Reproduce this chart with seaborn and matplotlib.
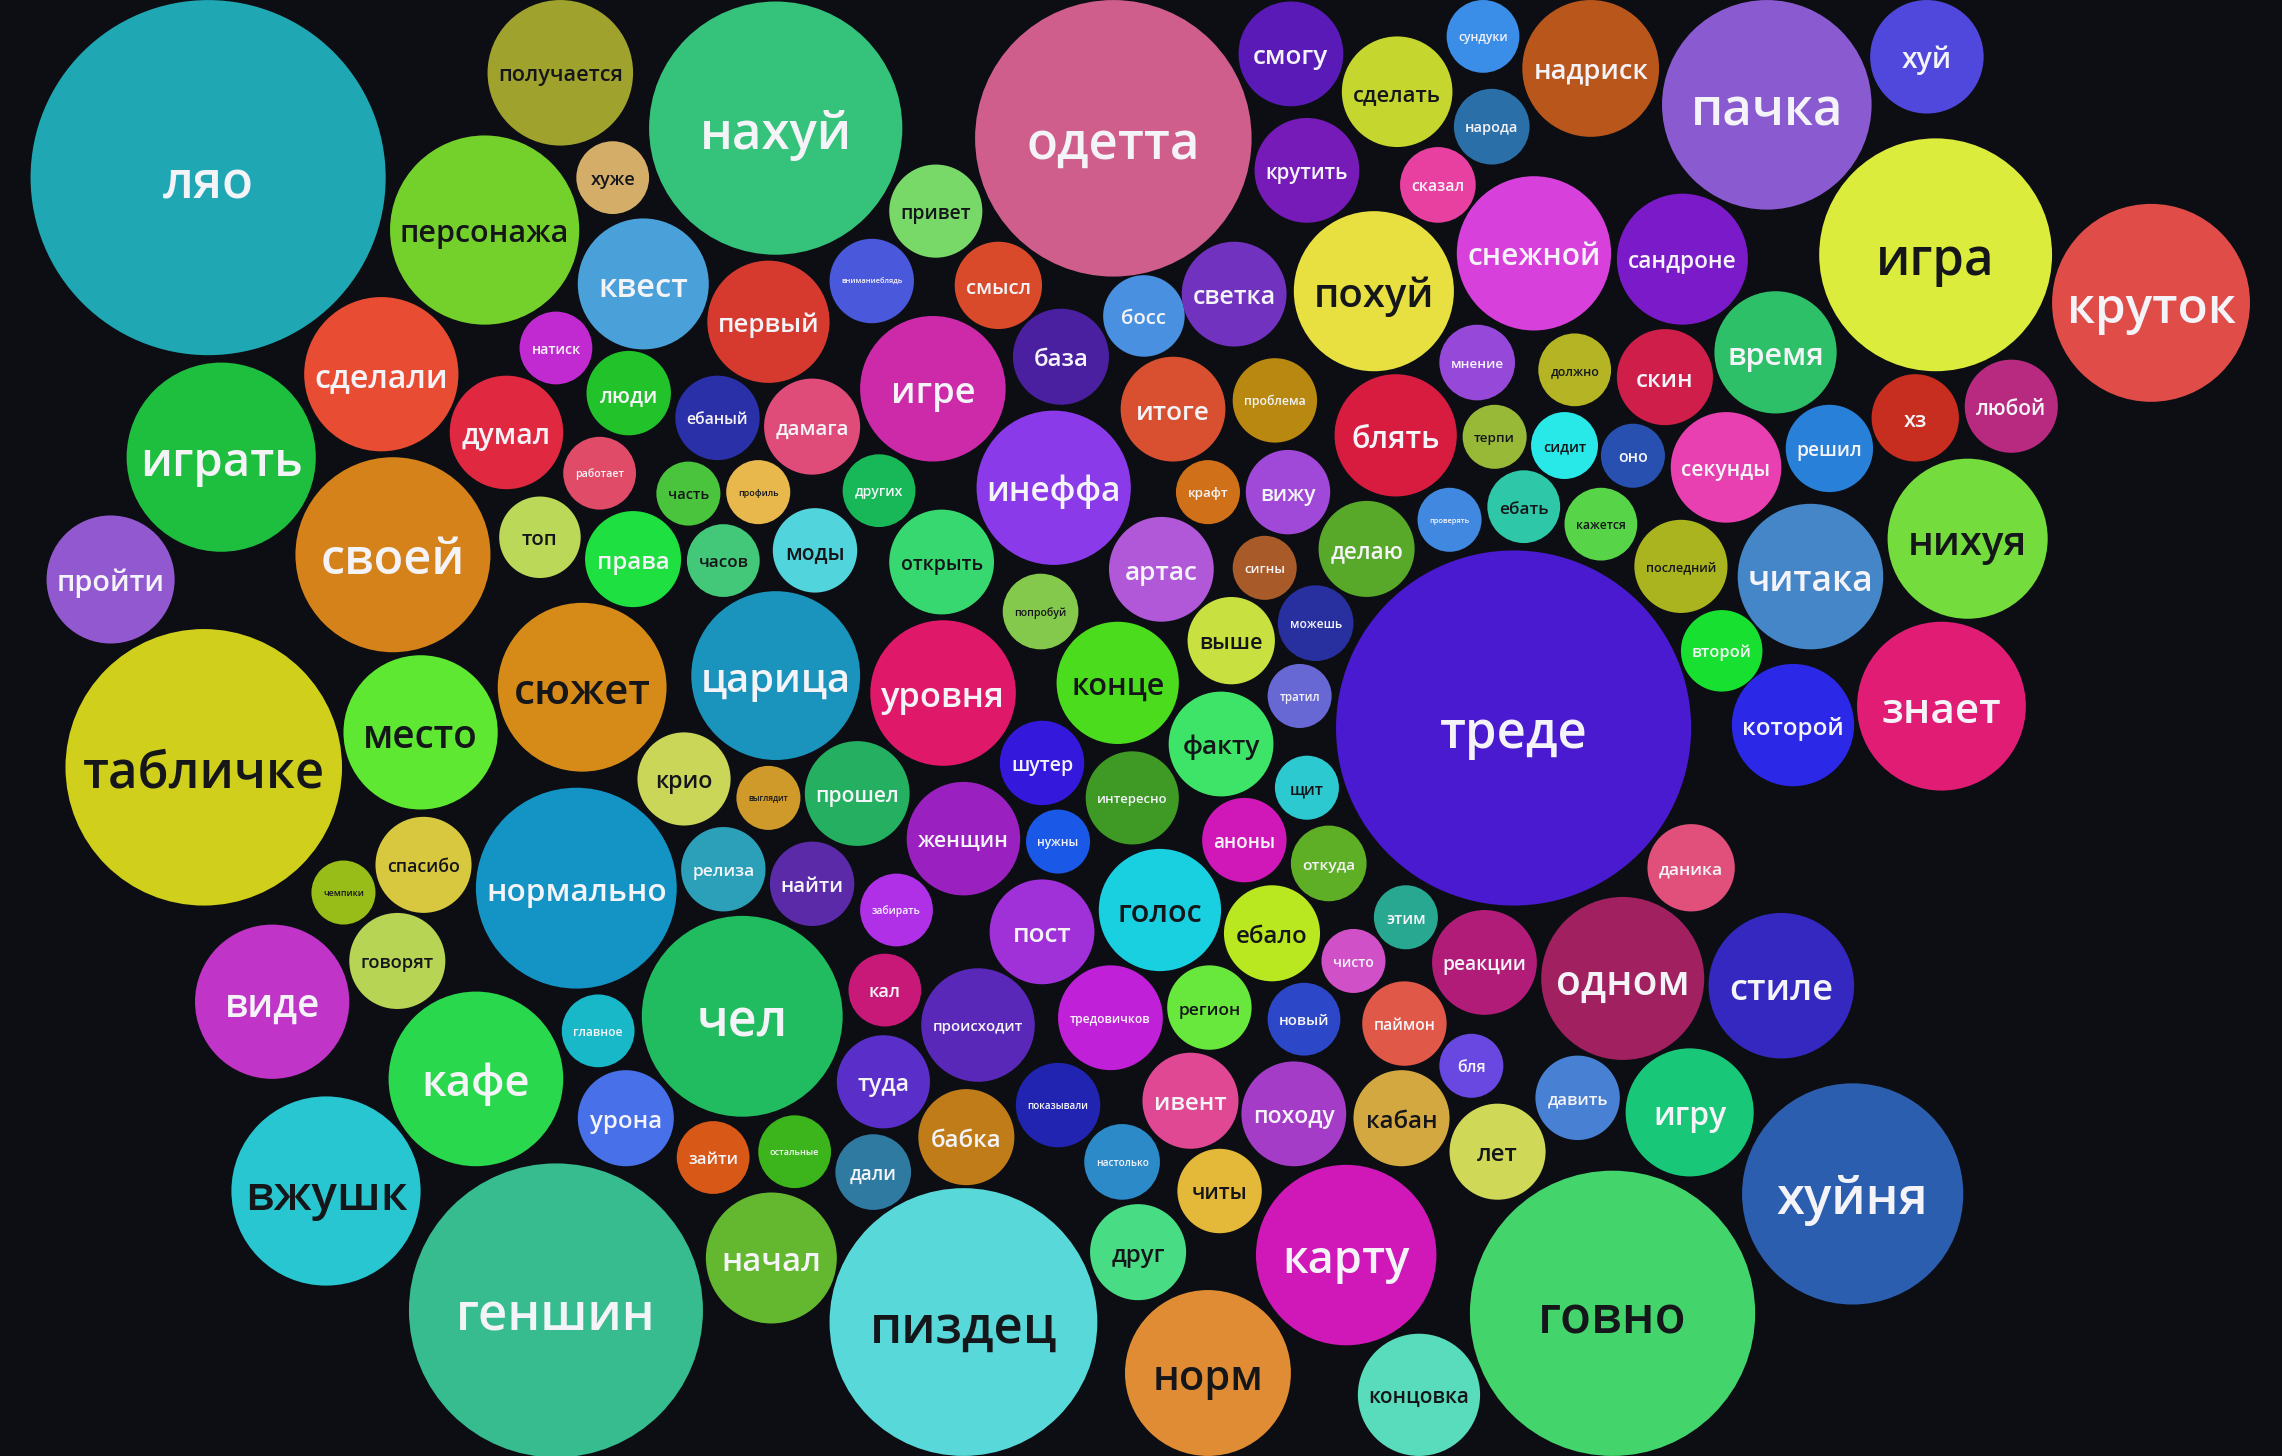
import numpy as np
import pandas as pd
import matplotlib
matplotlib.use("Agg")
import matplotlib.pyplot as plt
import seaborn as sns
from matplotlib.font_manager import FontProperties
from matplotlib.textpath import TextPath

# words and bubble radius (1568x1000 canvas units)
words = ["ляо", "получается", "хуже", "персонажа", "нахуй", "одетта", "смогу", "сделать",
         "сундуки", "народа", "надриск", "пачка", "хуй", "крутить", "сказал", "привет",
         "квест", "первый", "вниманиеблядь", "смысл", "босс", "светка", "похуй", "снежной",
         "сандроне", "игра", "круток", "натиск", "сделали", "играть", "думал", "люди",
         "ебаный", "дамага", "игре", "база", "итоге", "проблема", "блять", "мнение",
         "должно", "скин", "время", "хз", "любой", "терпи", "сидит", "оно",
         "секунды", "решил", "нихуя", "пройти", "своей", "работает", "топ", "часть",
         "профиль", "других", "инеффа", "крафт", "вижу", "делаю", "проверять", "ебать",
         "кажется", "последний", "читака", "права", "часов", "моды", "открыть", "артас",
         "сигны", "попробуй", "можешь", "табличке", "место", "сюжет", "царица", "уровня",
         "конце", "выше", "тратил", "треде", "второй", "которой", "знает", "крио",
         "выглядит", "прошел", "шутер", "интересно", "факту", "щит", "спасибо", "чемпики",
         "нормально", "релиза", "найти", "женщин", "нужны", "аноны", "откуда", "забирать",
         "пост", "голос", "ебало", "этим", "чисто", "реакции", "даника", "одном",
         "стиле", "виде", "говорят", "кафе", "главное", "чел", "кал", "происходит",
         "тредовичков", "регион", "новый", "паймон", "бля", "давить", "игру", "урона",
         "туда", "показывали", "ивент", "походу", "кабан", "лет", "хуйня", "вжушк",
         "зайти", "остальные", "дали", "бабка", "настолько", "читы", "друг", "геншин",
         "начал", "пиздец", "карту", "норм", "говно", "концовка"]

radius = [122, 50, 25, 65, 87, 95, 36, 38,
          25, 26, 47, 72, 39, 36, 26, 32,
          45, 42, 29, 30, 28, 36, 55, 53,
          45, 80, 68, 25, 53, 65, 39, 29,
          29, 33, 50, 33, 36, 29, 42, 26,
          25, 33, 42, 30, 32, 22, 23, 22,
          38, 30, 55, 44, 67, 25, 28, 22,
          22, 25, 53, 22, 29, 33, 22, 25,
          25, 32, 50, 33, 25, 29, 36, 36,
          22, 26, 26, 95, 53, 58, 58, 50,
          42, 30, 22, 122, 28, 42, 58, 32,
          22, 36, 29, 32, 36, 22, 33, 22,
          69, 29, 29, 39, 22, 29, 26, 25,
          36, 42, 33, 22, 22, 36, 30, 56,
          50, 53, 33, 60, 25, 69, 25, 39,
          36, 29, 25, 29, 22, 29, 44, 33,
          32, 29, 33, 36, 33, 33, 76, 65,
          25, 25, 26, 33, 26, 29, 33, 101,
          45, 92, 62, 57, 98, 42]

# bubble centres from the packed layout
x_pos = [143, 385, 421, 333, 533, 765, 887, 960,
         1019, 1025, 1093, 1214, 1324, 898, 988, 643,
         442, 528, 599, 686, 786, 848, 944, 1054,
         1156, 1330, 1478, 382, 262, 152, 348, 432,
         493, 558, 641, 729, 806, 876, 959, 1015,
         1082, 1144, 1220, 1316, 1382, 1027, 1075, 1122,
         1186, 1257, 1352, 76, 270, 412, 371, 473,
         521, 604, 724, 830, 885, 939, 996, 1047,
         1100, 1155, 1244, 435, 497, 560, 647, 798,
         869, 715, 904, 140, 289, 400, 533, 648,
         768, 846, 893, 1040, 1183, 1232, 1334, 470,
         528, 589, 716, 778, 839, 898, 291, 236,
         396, 497, 558, 662, 727, 855, 913, 616,
         716, 797, 874, 966, 930, 1020, 1162, 1115,
         1224, 187, 273, 327, 411, 510, 608, 672,
         763, 831, 896, 965, 1011, 1084, 1161, 430,
         607, 727, 818, 889, 963, 1029, 1273, 224,
         490, 546, 600, 664, 771, 838, 782, 382,
         530, 662, 925, 830, 1108, 975]

y_pos = [122, 50, 122, 158, 88, 95, 37, 63,
         25, 87, 47, 72, 39, 117, 127, 145,
         195, 221, 193, 196, 217, 202, 200, 174,
         178, 175, 208, 239, 257, 314, 297, 270,
         287, 293, 267, 245, 281, 275, 299, 249,
         254, 259, 242, 287, 279, 300, 306, 313,
         321, 308, 370, 398, 381, 325, 369, 339,
         338, 337, 335, 338, 338, 377, 357, 348,
         360, 389, 396, 384, 385, 378, 386, 391,
         390, 420, 428, 527, 503, 472, 464, 476,
         469, 440, 478, 500, 447, 498, 485, 535,
         548, 545, 524, 548, 511, 541, 594, 613,
         610, 597, 607, 576, 578, 577, 593, 625,
         640, 625, 641, 630, 660, 661, 596, 672,
         677, 688, 660, 741, 708, 698, 680, 704,
         699, 692, 700, 703, 732, 754, 764, 768,
         743, 759, 756, 765, 768, 791, 820, 818,
         795, 791, 805, 781, 798, 818, 860, 900,
         864, 908, 862, 943, 902, 958]

colors = ["#1fa8b4", "#a0a22e", "#d4ad68", "#74d12c", "#35c27a", "#d05e8c", "#5a1ab8", "#c5d72e",
          "#3a8ee8", "#2a6fa8", "#b8561c", "#8a5ad0", "#5048dc", "#761ab8", "#e840a0", "#78d868",
          "#4aa0d8", "#d63a2e", "#4a58dc", "#d84a2a", "#4a90e0", "#7232c0", "#e8e040", "#d840dc",
          "#7a1ac8", "#dbec3c", "#e04c48", "#c02ad0", "#e84c32", "#1ebe3e", "#e02840", "#22c22a",
          "#2a30a8", "#e04c7a", "#cc2aa8", "#4a20a0", "#d85030", "#b88810", "#d81c40", "#9648d8",
          "#b4b424", "#d01e4a", "#2ec068", "#c82e20", "#b82a80", "#98b838", "#28e8e8", "#2850b0",
          "#e840b0", "#2880d8", "#74dc3c", "#9258d0", "#d6821a", "#e04c68", "#bcd858", "#4ac43c",
          "#e8b84c", "#18b858", "#8a3ae8", "#d07018", "#a048d8", "#58a82a", "#4088e0", "#2ec8a8",
          "#58d448", "#aab41e", "#4486c8", "#1ee040", "#42c878", "#52d4dc", "#38d870", "#b058d8",
          "#a85a28", "#84c84c", "#2830a0", "#d0d01c", "#5ee832", "#d68a18", "#1a94bc", "#e0186a",
          "#4cdc1e", "#c8e040", "#6868d4", "#4a1ad0", "#18e030", "#2c28e8", "#e01c74", "#cad658",
          "#d09a2a", "#24b060", "#3418dc", "#3e9a24", "#3ee468", "#2ccad0", "#d8c840", "#98bc18",
          "#1494c4", "#2ca0b8", "#5a2aa8", "#9a20c0", "#1a58e8", "#d018b8", "#5eae26", "#b030e8",
          "#a030d8", "#18d0e0", "#bae820", "#28a890", "#d050c8", "#b01c78", "#e0507a", "#a02060",
          "#3428c0", "#c034c8", "#b8d454", "#2ad84e", "#18b8c8", "#22bc60", "#c81878", "#5a28b8",
          "#c020d8", "#68e83c", "#2c48c8", "#e05848", "#6848e0", "#4880d4", "#18c878", "#4870e8",
          "#5a2ec8", "#2024b0", "#e04894", "#a43cc8", "#d4a840", "#d0d858", "#2c5eb0", "#28c6d0",
          "#d85818", "#3cb41c", "#2e7aa0", "#c07c18", "#2c8ac8", "#e4b838", "#48dc84", "#36bc8e",
          "#64b830", "#58d8d8", "#d018b8", "#e08c34", "#44d46c", "#58dcbc"]

# labels drawn in dark ink instead of white
dark_labels = {"получается", "хуже", "персонажа", "сделать", "привет", "похуй", "игра",
               "должно", "терпи", "сидит", "нихуя", "топ", "часть", "профиль", "ебать",
               "кажется", "последний", "часов", "моды", "открыть", "попробуй", "табличке",
               "место", "сюжет", "конце", "выше", "крио", "выглядит", "факту", "щит",
               "спасибо", "чемпики", "голос", "ебало", "говорят", "регион", "кабан", "лет",
               "вжушк", "читы", "друг", "пиздец", "норм", "говно", "концовка"}

df = pd.DataFrame({"word": words, "x": x_pos, "y": y_pos, "r": radius})

W, H = 1568, 1000
fig_w, fig_h = 22.82, 14.56
pt_per_unit = fig_w * 72 / W

sns.set_theme(style="dark")
plt.rcParams["font.family"] = ["Open Sans", "DejaVu Sans"]
bg = "#0c0e13"

fig = plt.figure(figsize=(fig_w, fig_h), dpi=100, facecolor=bg)
ax = fig.add_axes([0, 0, 1, 1])
ax.set_facecolor(bg)

sizes = (2 * df["r"].to_numpy() * pt_per_unit) ** 2
sns.scatterplot(data=df, x="x", y="y", hue="word", palette=dict(zip(words, colors)),
                s=sizes, linewidth=0, edgecolor="none", legend=False, ax=ax, zorder=2)

fp = FontProperties(family=["Open Sans", "DejaVu Sans"], weight=600)
for w, x, y, r in zip(df["word"], df["x"], df["y"], df["r"]):
    em_w = TextPath((0, 0), w, size=1, prop=fp).get_extents().width
    fs = min(0.5 * r, 35, (2 * r - 17) / em_w)
    ax.text(x, y + 0.4 * fs, w, ha="center", va="baseline",
            fontsize=fs * pt_per_unit, fontproperties=fp,
            color="#15161a" if w in dark_labels else "#f4f4f8", zorder=3)

ax.set_xlim(0, W)
ax.set_ylim(H, 0)
ax.axis("off")

fig.savefig("out.png", dpi=100, facecolor=bg)
